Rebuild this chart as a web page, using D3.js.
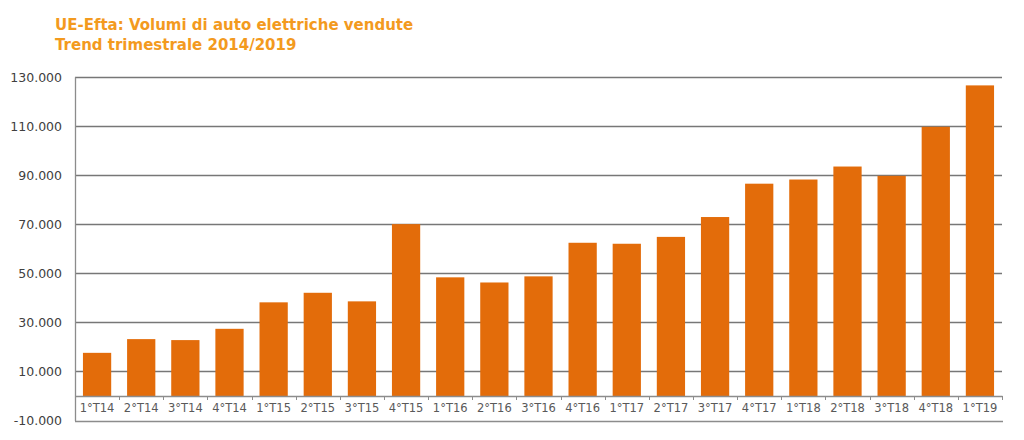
<!DOCTYPE html>
<html><head><meta charset="utf-8">
<script src="https://cdn.jsdelivr.net/npm/d3@7"></script>
<style>body{margin:0;background:#fff}svg{display:block}</style>
</head><body>
<svg id="c" width="1024" height="440"></svg>
<script>
const titleLines = ["UE-Efta: Volumi di auto elettriche vendute", "Trend trimestrale 2014/2019"];
const categories = ["1°T14","2°T14","3°T14","4°T14","1°T15","2°T15","3°T15","4°T15","1°T16","2°T16","3°T16","4°T16","1°T17","2°T17","3°T17","4°T17","1°T18","2°T18","3°T18","4°T18","1°T19"];
const values = [17600,23200,22800,27400,38200,42100,38600,70100,48400,46300,48800,62500,62100,64900,73000,86600,88300,93600,89800,109800,126700];
const yTicks = [-10000,10000,30000,50000,70000,90000,110000,130000];

const svg = d3.select("#c");
const L = 75, R = 1002, T = 77.3, B = 420.5;
const x = d3.scaleBand().domain(categories).range([L, R]).paddingInner(0.36).paddingOuter(0.18);
const xb = d3.scaleBand().domain(categories).range([L, R]);
const y = d3.scaleLinear().domain([-10000, 130000]).range([B, T]);
const fmt = v => (v < 0 ? "-" : "") + d3.format(",")(Math.abs(v)).replace(/,/g, ".");

// title
svg.append("g").selectAll("text").data(titleLines).join("text")
  .attr("x", 55).attr("y", (d,i) => 29.5 + i*20.5)
  .attr("font-family", "DejaVu Sans").attr("font-weight", "bold").attr("font-size", 15)
  .attr("fill", "#F39A1E").text(d => d);

// gridlines
svg.append("g").selectAll("line").data(yTicks.filter(v => v > -10000)).join("line")
  .attr("x1", L).attr("x2", R).attr("y1", d => Math.round(y(d)) + 0.5).attr("y2", d => Math.round(y(d)) + 0.5)
  .attr("stroke", "#777777").attr("stroke-width", 1.3);

// y axis
const yAxis = d3.axisLeft(y).tickValues(yTicks).tickFormat(fmt).tickSize(0).tickPadding(13);
const gy = svg.append("g").attr("transform", `translate(${L},0)`).call(yAxis);
gy.select(".domain").remove();
gy.selectAll("text").attr("font-family", "DejaVu Sans").attr("font-size", 12.5).attr("fill", "#404040");
svg.append("line").attr("x1", L + 0.5).attr("x2", L + 0.5).attr("y1", T).attr("y2", B + 0.5)
  .attr("stroke", "#8c8c8c").attr("stroke-width", 1.3);
svg.append("line").attr("x1", L).attr("x2", R + 1).attr("y1", Math.round(B) + 0.5).attr("y2", Math.round(B) + 0.5)
  .attr("stroke", "#8c8c8c").attr("stroke-width", 1.3);

// bars
svg.append("g").selectAll("rect").data(values).join("rect")
  .attr("x", (d,i) => x(categories[i])).attr("width", x.bandwidth())
  .attr("y", d => y(d)).attr("height", d => y(0) - y(d))
  .attr("fill", "#E36C0A");

// x axis at zero
const xAxis = d3.axisBottom(xb).tickSize(0).tickPadding(8);
const gx = svg.append("g").attr("transform", `translate(0,${y(0)})`).call(xAxis);
gx.select(".domain").attr("stroke", "#8c8c8c").attr("stroke-width", 1.3);
gx.selectAll("text").attr("font-family", "DejaVu Sans").attr("font-size", 11.5).attr("fill", "#595959");
// tick marks between categories
const bounds = categories.map(c => xb(c)).concat([R]);
gx.append("g").selectAll("line").data(bounds).join("line")
  .attr("x1", d => Math.round(d) + 0.5).attr("x2", d => Math.round(d) + 0.5).attr("y1", 0).attr("y2", 4)
  .attr("stroke", "#8c8c8c").attr("stroke-width", 1);
</script>
</body></html>
